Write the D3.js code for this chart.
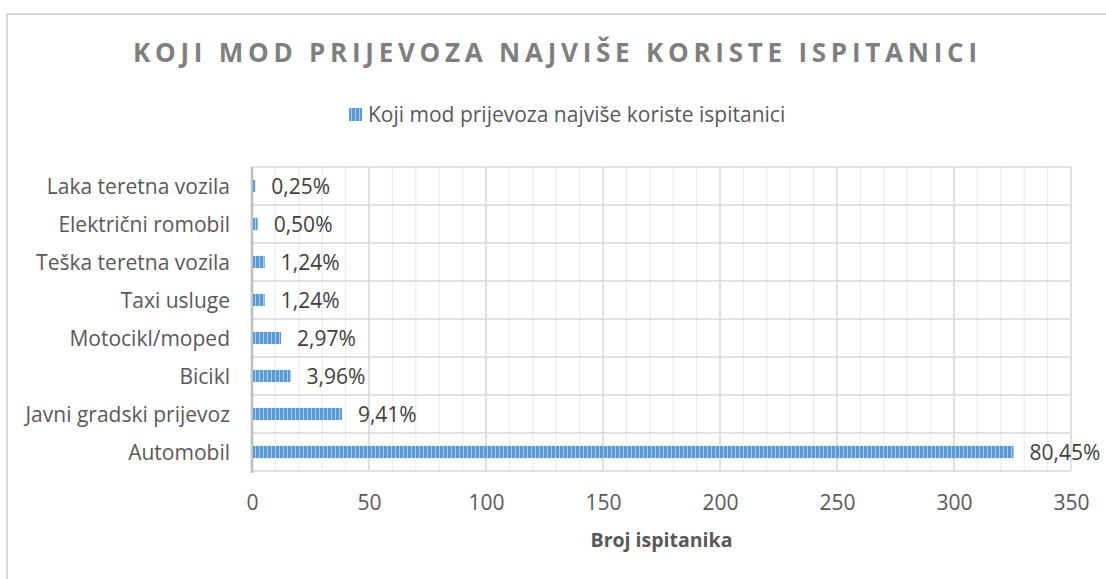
<!DOCTYPE html>
<html><head><meta charset="utf-8">
<script src="https://cdn.jsdelivr.net/npm/d3@7"></script>
<style>body{margin:0;background:#fff;} text{font-family:"Open Sans",sans-serif;}</style>
</head><body>
<svg id="c" width="1106" height="579"></svg>
<script>
const title = "KOJI MOD PRIJEVOZA NAJVIŠE KORISTE ISPITANICI";
const seriesName = "Koji mod prijevoza najviše koriste ispitanici";
const categories = ["Laka teretna vozila","Električni romobil","Teška teretna vozila","Taxi usluge","Motocikl/moped","Bicikl","Javni gradski prijevoz","Automobil"];
const counts = [1,2,5,5,12,16,38,325];
const pctLabels = ["0,25%","0,50%","1,24%","1,24%","2,97%","3,96%","9,41%","80,45%"];
const xTicks = [0,50,100,150,200,250,300,350];
const xTitle = "Broj ispitanika";

const svg = d3.select("#c");
const W = 1106, H = 579;
const m = {l:252, r:1071, t:167, b:471};
const fs = 21;

// border
svg.append("rect").attr("x",7).attr("y",14).attr("width",W+10).attr("height",H+10)
  .attr("fill","none").attr("stroke","#d9d9d9").attr("stroke-width",2);

// pattern
const defs = svg.append("defs");
const pat = defs.append("pattern").attr("id","stripe").attr("patternUnits","userSpaceOnUse")
  .attr("width",4).attr("height",4);
pat.append("rect").attr("width",4).attr("height",4).attr("fill","#5b9bd5");
pat.append("rect").attr("x",3).attr("width",1).attr("height",4).attr("fill","#a9cdee");

const x = d3.scaleLinear().domain([0,350]).range([m.l,m.r]);
const y = d3.scaleBand().domain(categories).range([m.t,m.b]);

// minor grid
svg.append("g").selectAll("line").data(d3.range(0,351,10).filter(v=>v%50!==0)).join("line")
  .attr("x1",d=>x(d)).attr("x2",d=>x(d)).attr("y1",m.t).attr("y2",m.b)
  .attr("stroke","#ededed").attr("stroke-width",1.2);
// major grid
svg.append("g").selectAll("line").data(xTicks).join("line")
  .attr("x1",d=>x(d)).attr("x2",d=>x(d)).attr("y1",m.t).attr("y2",m.b)
  .attr("stroke","#d9d9d9").attr("stroke-width",1.5);
// horizontal grid
const bounds = categories.map(c=>y(c)).concat([m.b]);
svg.append("g").selectAll("line").data(bounds).join("line")
  .attr("x1",m.l).attr("x2",m.r).attr("y1",d=>d).attr("y2",d=>d)
  .attr("stroke","#d9d9d9").attr("stroke-width",1.5);

// axis line
svg.append("line").attr("x1",m.l).attr("x2",m.l).attr("y1",m.t).attr("y2",m.b+2)
  .attr("stroke","#bfbfbf").attr("stroke-width",2.5);

// bars
const bh = y.bandwidth()*0.32;
svg.append("g").selectAll("rect").data(counts).join("rect")
  .attr("x",x(0)+1).attr("y",(d,i)=>y(categories[i])+y.bandwidth()/2-bh/2)
  .attr("width",d=>x(d)-x(0)).attr("height",bh).attr("fill","url(#stripe)");

// data labels
svg.append("g").selectAll("text").data(counts).join("text")
  .attr("x",d=>x(d)+17).attr("y",(d,i)=>y(categories[i])+y.bandwidth()/2)
  .attr("dy","0.36em").attr("font-size",fs).attr("fill","#404040")
  .text((d,i)=>pctLabels[i]);

// category labels
svg.append("g").selectAll("text").data(categories).join("text")
  .attr("x",230).attr("y",d=>y(d)+y.bandwidth()/2).attr("dy","0.36em")
  .attr("text-anchor","end").attr("font-size",fs).attr("fill","#595959").text(d=>d);

// x tick labels
const xa = svg.append("g").attr("transform",`translate(0,${m.b})`)
  .call(d3.axisBottom(x).tickValues(xTicks).tickSize(0).tickPadding(0));
xa.select(".domain").remove();
xa.selectAll("text").attr("y",39).attr("dy",0).attr("font-size",fs).attr("fill","#595959")
  .style("font-family","'Open Sans',sans-serif");

// axis title
svg.append("text").attr("x",(m.l+m.r)/2).attr("y",547).attr("text-anchor","middle")
  .attr("font-size",19.5).attr("font-weight","bold").attr("fill","#595959").text(xTitle);

// title
const t = svg.append("text").attr("x",555).attr("y",62).attr("text-anchor","middle")
  .attr("font-size",26).attr("font-weight","bold").attr("fill","#7f7f7f").text(title);
const tw = t.node().getComputedTextLength();
const ls = (844 - tw)/(title.length-1);
t.attr("letter-spacing",ls).attr("x",555+ls/2);

// legend
svg.append("rect").attr("x",349).attr("y",108).attr("width",13).attr("height",13).attr("fill","url(#stripe)");
svg.append("text").attr("x",368).attr("y",122).attr("font-size",fs).attr("fill","#595959").text(seriesName);
</script>
</body></html>
